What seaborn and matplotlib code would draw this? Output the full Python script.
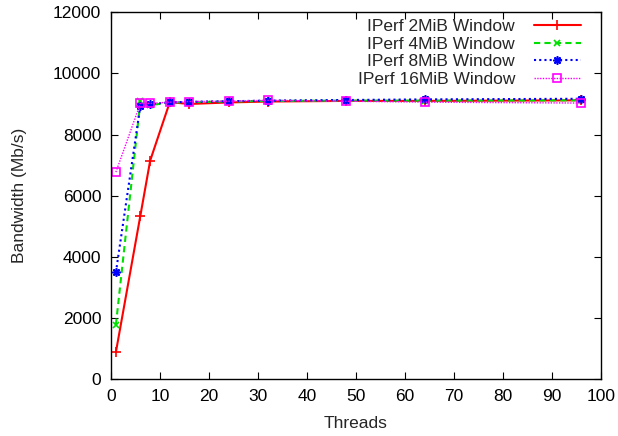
import matplotlib
matplotlib.use("Agg")
import matplotlib.pyplot as plt
import seaborn as sns
import pandas as pd

threads = [1, 6, 8, 12, 16, 24, 32, 48, 64, 96]
bw_2mib = [880, 5350, 7150, 9060, 9000, 9050, 9080, 9100, 9100, 9120]
bw_4mib = [1775, 9090, 8960, 9050, 9060, 9080, 9100, 9110, 9110, 9120]
bw_8mib = [3490, 8950, 9000, 9050, 9070, 9090, 9110, 9130, 9150, 9170]
bw_16mib = [6770, 9020, 9020, 9060, 9080, 9090, 9120, 9090, 9060, 9030]
labels = ["IPerf 2MiB Window", "IPerf 4MiB Window", "IPerf 8MiB Window", "IPerf 16MiB Window"]

sns.set_style("ticks")
plt.rcParams["font.family"] = ["Liberation Sans", "DejaVu Sans"]

FS = 12.5
fig = plt.figure(figsize=(6.18, 4.36), dpi=100)
ax = fig.add_axes([0.1796, 0.1307, 0.9725 - 0.1796, 0.9718 - 0.1307])

styles = [
    dict(color="#ff0000", linestyle="-", marker="+", markersize=7, lw=1.5, mfc="#ff0000"),
    dict(color="#00e000", linestyle=(0, (3, 2)), marker="x", markersize=5, lw=1.5, mfc="#00e000"),
    dict(color="#0000ff", linestyle=(0, (1, 1.5)), marker=(8, 2, 0), markersize=6, lw=1.5, mfc="#0000ff"),
    dict(color="#ff00ff", linestyle=(0, (1, 1)), marker="s", markersize=6, lw=1.0, mfc="none"),
]
series = [bw_2mib, bw_4mib, bw_8mib, bw_16mib]
for vals, lab, st in zip(series, labels, styles):
    df = pd.DataFrame({"Threads": threads, "bw": vals})
    sns.lineplot(data=df, x="Threads", y="bw", ax=ax, label=lab,
                 color=st["color"], linestyle=st["linestyle"], marker=st["marker"],
                 markersize=st["markersize"], linewidth=st["lw"],
                 markerfacecolor=st["mfc"], markeredgecolor=st["color"],
                 markeredgewidth=1.2)

ax.set_xlim(0, 100)
ax.set_ylim(0, 12000)
ax.set_xticks(range(0, 101, 10))
ax.set_yticks(range(0, 12001, 2000))
ax.tick_params(direction="in", length=5, width=0.8, top=True, right=True,
               labelsize=FS, colors="black", pad=7)
for s in ax.spines.values():
    s.set_visible(True)
    s.set_linewidth(1.0)
    s.set_color("black")
ax.set_xlabel("Threads", fontsize=FS, labelpad=9)
ax.set_ylabel("Bandwidth (Mb/s)", fontsize=FS, labelpad=19)

leg = ax.legend(loc="upper right", bbox_to_anchor=(0.959, 0.981), frameon=False,
                markerfirst=False, fontsize=FS,
                handlelength=2.7, handletextpad=1.1, labelspacing=0.13,
                borderaxespad=0.0, borderpad=0.0)
try:
    for col in leg._legend_box.get_children()[1].get_children():
        col.align = "right"
except Exception:
    pass

fig.savefig("out.png", dpi=100)
